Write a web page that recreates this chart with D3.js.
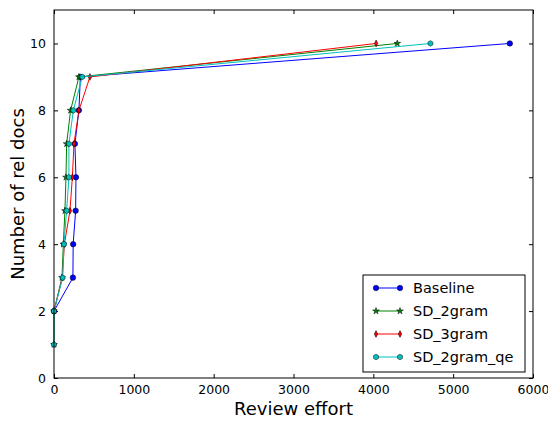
<!DOCTYPE html>
<html>
<head>
<meta charset="utf-8">
<script src="https://cdn.jsdelivr.net/npm/d3@7"></script>
<style>
  body { margin: 0; background: #fff; }
  svg { font-family: "DejaVu Sans", sans-serif; }
</style>
</head>
<body>
<svg id="chart"></svg>
<script>
const width = 548;
const height = 423;
const margin = { top: 10, right: 15, bottom: 45, left: 54 };

const seriesNames = ["Baseline", "SD_2gram", "SD_3gram", "SD_2gram_qe"];
const colors = ["#0000ff", "#008000", "#ff0000", "#00bfbf"];
const markers = ["circle", "star", "thin_diamond", "hexagon"];

// docs found (y) vs review effort (x)
const baselineX = [0, 237, 240, 271, 275, 262, 312, 330, 5710];
const baselineY = [2, 3, 4, 5, 6, 7, 8, 9, 10];
const sd2gramX = [0, 0, 100, 117, 137, 150, 158, 208, 312, 4300];
const sd2gramY = [1, 2, 3, 4, 5, 6, 7, 8, 9, 10];
const sd3gramX = [0, 105, 130, 200, 230, 250, 312, 450, 4035];
const sd3gramY = [2, 3, 4, 5, 6, 7, 8, 9, 10];
const sd2gramQeX = [0, 0, 108, 125, 158, 187, 187, 242, 354, 4715];
const sd2gramQeY = [1, 2, 3, 4, 5, 6, 7, 8, 9, 10];

const xTicks = [0, 1000, 2000, 3000, 4000, 5000, 6000];
const yTicks = [0, 2, 4, 6, 8, 10];

const series = [
  [baselineX, baselineY],
  [sd2gramX, sd2gramY],
  [sd3gramX, sd3gramY],
  [sd2gramQeX, sd2gramQeY],
].map(([xs, ys], i) => ({
  name: seriesNames[i],
  color: colors[i],
  marker: markers[i],
  points: xs.map((x, j) => ({ x: x, y: ys[j] })),
}));

const svg = d3.select("#chart").attr("width", width).attr("height", height);

const x = d3.scaleLinear().domain([0, 6000]).range([margin.left, width - margin.right]);
const y = d3.scaleLinear().domain([0, 11]).range([height - margin.bottom, margin.top]);

// marker shapes
function markerPath(type) {
  if (type === "circle") return d3.symbol(d3.symbolCircle, 24)();
  if (type === "star") return d3.symbol(d3.symbolStar, 14)();
  if (type === "hexagon") {
    const r = 2.8;
    const pts = d3.range(6).map((k) => {
      const a = (Math.PI / 3) * k - Math.PI / 2;
      return [r * Math.cos(a), r * Math.sin(a)];
    });
    return "M" + pts.join("L") + "Z";
  }
  // thin diamond
  return "M0,-3.4L1.7,0L0,3.4L-1.7,0Z";
}

const plotW = width - margin.left - margin.right;
const plotH = height - margin.top - margin.bottom;

// axes
svg.append("g")
  .attr("transform", `translate(0,${height - margin.bottom})`)
  .call(d3.axisBottom(x).tickValues(xTicks).tickSize(-4).tickPadding(7).tickFormat(d3.format("d")))
  .call((g) => g.select(".domain").remove());

svg.append("g")
  .attr("transform", `translate(0,${margin.top})`)
  .call(d3.axisTop(x).tickValues(xTicks).tickSize(-4).tickFormat(""))
  .call((g) => g.select(".domain").remove());

svg.append("g")
  .attr("transform", `translate(${margin.left},0)`)
  .call(d3.axisLeft(y).tickValues(yTicks).tickSize(-4).tickPadding(8))
  .call((g) => g.select(".domain").remove());

svg.append("g")
  .attr("transform", `translate(${width - margin.right},0)`)
  .call(d3.axisRight(y).tickValues(yTicks).tickSize(-4).tickFormat(""))
  .call((g) => g.select(".domain").remove());

svg.selectAll(".tick text").attr("font-size", 12.5).attr("fill", "#000")
  .attr("font-family", "DejaVu Sans, sans-serif");
svg.selectAll(".tick line").attr("stroke", "#000");

// lines
const line = d3.line().x((d) => x(d.x)).y((d) => y(d.y));

const seriesG = svg.selectAll(".series")
  .data(series)
  .enter()
  .append("g")
  .attr("class", "series");

seriesG.append("path")
  .attr("d", (d) => line(d.points))
  .attr("fill", "none")
  .attr("stroke", (d) => d.color)
  .attr("stroke-width", 1);

seriesG.each(function (s) {
  d3.select(this)
    .selectAll(".pt")
    .data(s.points)
    .enter()
    .append("path")
    .attr("class", "pt")
    .attr("transform", (d) => `translate(${x(d.x)},${y(d.y)})`)
    .attr("d", markerPath(s.marker))
    .attr("fill", s.color)
    .attr("stroke", "#000")
    .attr("stroke-width", 0.5);
});

// frame
svg.append("rect")
  .attr("x", margin.left).attr("y", margin.top)
  .attr("width", plotW).attr("height", plotH)
  .attr("fill", "none").attr("stroke", "#000").attr("stroke-width", 1);

// axis labels
svg.append("text")
  .attr("x", margin.left + plotW / 2)
  .attr("y", height - 8)
  .attr("text-anchor", "middle")
  .attr("font-size", 18)
  .text("Review effort");

svg.append("text")
  .attr("transform", `translate(24,${margin.top + plotH / 2}) rotate(-90)`)
  .attr("text-anchor", "middle")
  .attr("font-size", 18)
  .text("Number of rel docs");

// legend
const legend = svg.append("g").attr("transform", "translate(363,275)");
legend.append("rect")
  .attr("width", 162).attr("height", 97)
  .attr("fill", "#fff").attr("stroke", "#000").attr("stroke-width", 1);

const legendElem = legend.selectAll(".leg")
  .data(series)
  .enter()
  .append("g")
  .attr("transform", (d, i) => `translate(0,${13 + i * 23})`);

legendElem.append("line")
  .attr("x1", 13).attr("x2", 37)
  .attr("stroke", (d) => d.color).attr("stroke-width", 1);

legendElem.selectAll(".m")
  .data((d) => [d, d])
  .enter()
  .append("path")
  .attr("transform", (d, i) => `translate(${i === 0 ? 13 : 37},0)`)
  .attr("d", (d) => markerPath(d.marker))
  .attr("fill", (d) => d.color)
  .attr("stroke", "#000")
  .attr("stroke-width", 0.5);

legendElem.append("text")
  .attr("x", 50)
  .attr("y", 5)
  .attr("font-size", 14.5)
  .text((d) => d.name);
</script>
</body>
</html>
